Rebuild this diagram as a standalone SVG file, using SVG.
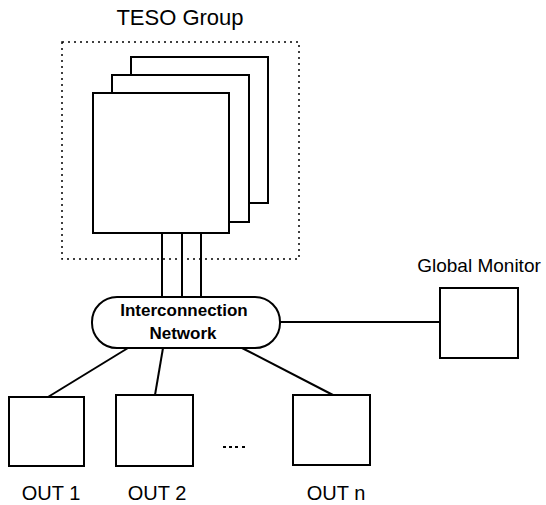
<svg xmlns="http://www.w3.org/2000/svg" width="546" height="505" viewBox="0 0 546 505">
<style>
.box{fill:#fff;stroke:#000;stroke-width:2}
.ln{stroke:#000;stroke-width:2;fill:none}
.t{font-family:"Liberation Sans",Arial,sans-serif;fill:#000;text-anchor:middle}
</style>
<rect width="546" height="505" fill="#fff"/>
<g id="teso-group">
<rect x="62" y="42" width="237" height="217" fill="none" stroke="#000" stroke-width="1.5" stroke-dasharray="2,4"/>
<text class="t" x="180" y="25" font-size="22">TESO Group</text>
<rect class="box" x="131" y="57" width="137" height="146"/>
<rect class="box" x="112" y="75" width="137" height="147"/>
<rect class="box" x="93" y="93" width="136" height="140"/>
</g>
<g id="connectors">
<line class="ln" x1="162" y1="233" x2="162" y2="297"/>
<line class="ln" x1="182" y1="233" x2="182" y2="297"/>
<line class="ln" x1="201" y1="233" x2="201" y2="297"/>
<line class="ln" x1="280" y1="322" x2="440" y2="322"/>
<line class="ln" x1="128" y1="348" x2="48" y2="397"/>
<line class="ln" x1="163" y1="348" x2="155" y2="395"/>
<line class="ln" x1="242" y1="348" x2="333" y2="395"/>
</g>
<g id="interconnection-network">
<rect class="box" x="92" y="297" width="188" height="51" rx="25" ry="25"/>
<text class="t" x="184" y="316" font-size="17" font-weight="bold">Interconnection</text>
<text class="t" x="183" y="339" font-size="17" font-weight="bold">Network</text>
</g>
<g id="global-monitor">
<text class="t" x="479" y="272" font-size="19">Global Monitor</text>
<rect class="box" x="440" y="288" width="78" height="70"/>
</g>
<g id="out1">
<rect class="box" x="9" y="397" width="75" height="69"/>
<text class="t" x="51" y="500" font-size="20">OUT 1</text>
</g>
<g id="out2">
<rect class="box" x="116" y="395" width="77" height="71"/>
<text class="t" x="157" y="500" font-size="20">OUT 2</text>
</g>
<g id="ellipsis">
<rect x="223" y="446" width="3" height="2"/>
<rect x="229" y="446" width="3" height="2"/>
<rect x="235" y="446" width="3" height="2"/>
<rect x="242" y="446" width="3" height="2"/>
</g>
<g id="outn">
<rect class="box" x="293" y="395" width="77" height="70"/>
<text class="t" x="336" y="500" font-size="20">OUT n</text>
</g>
</svg>
